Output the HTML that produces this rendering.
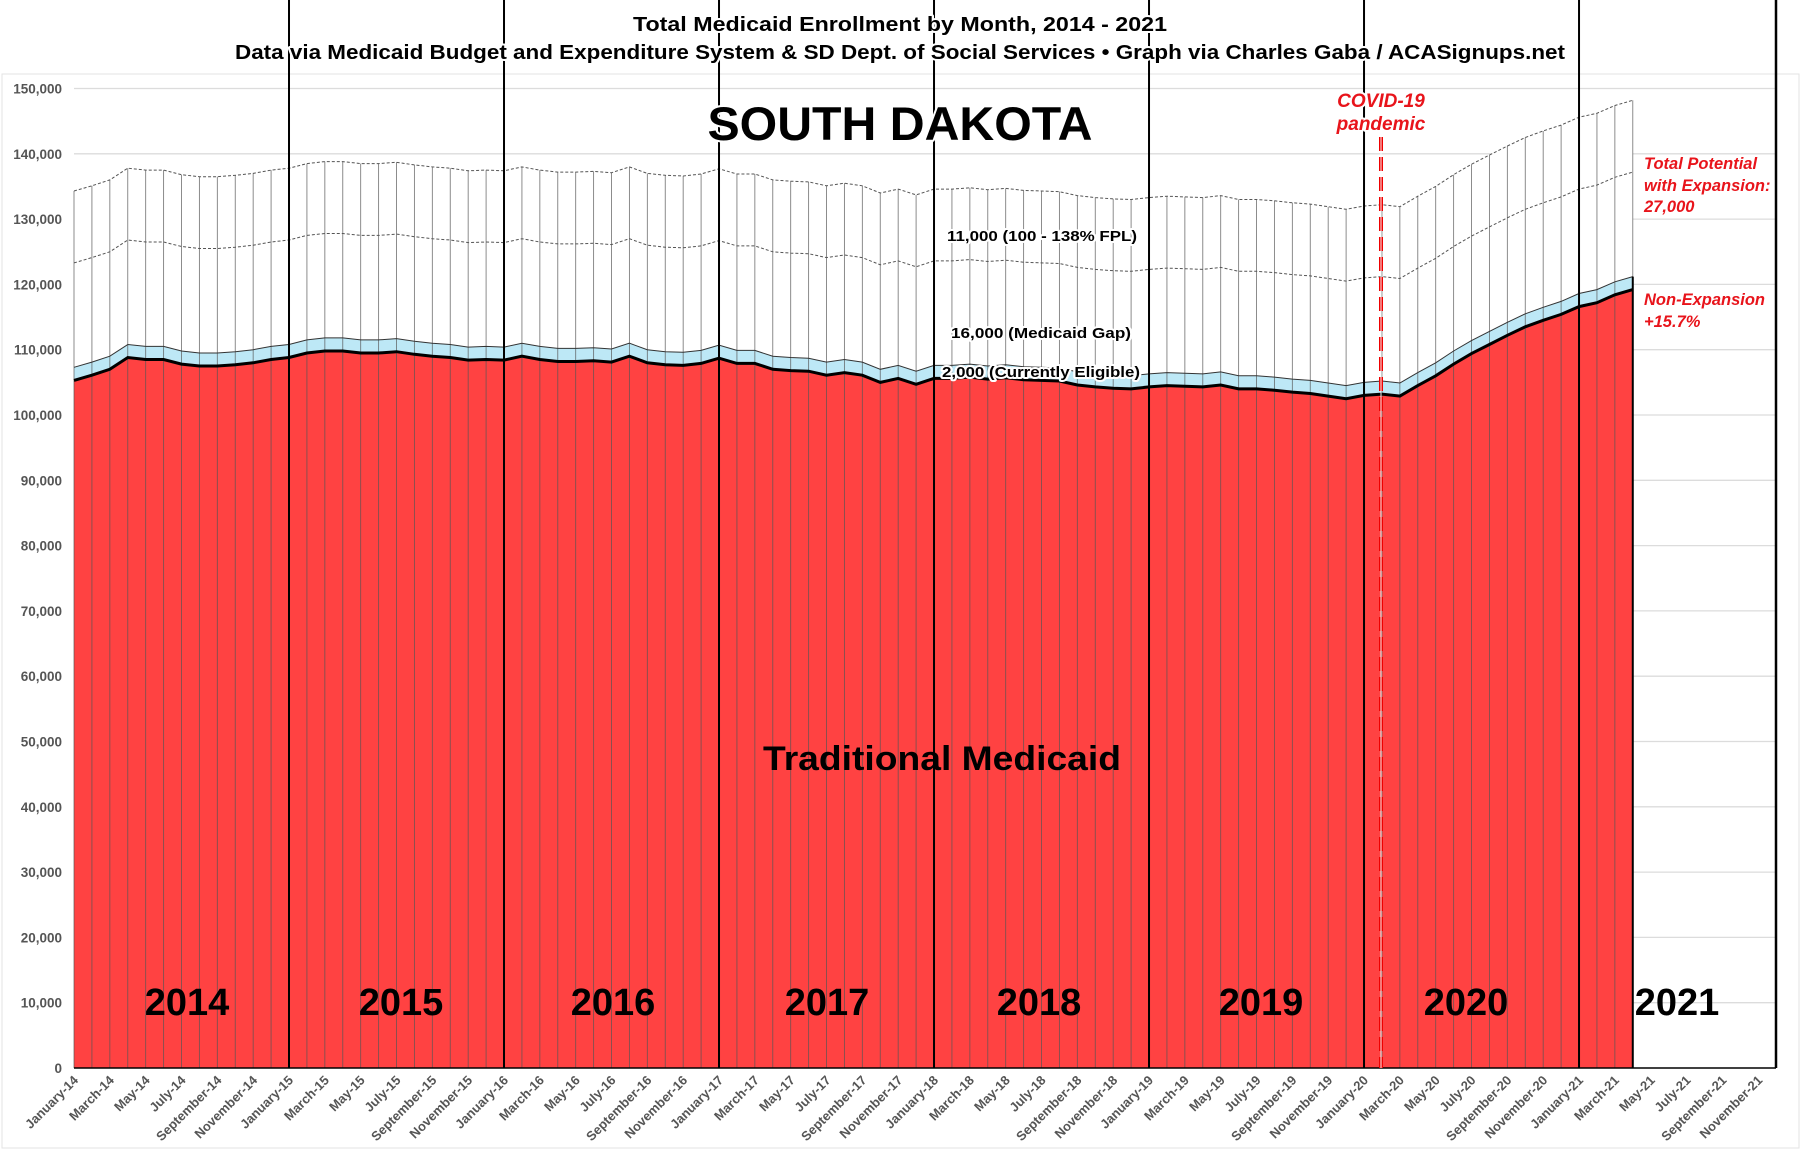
<!DOCTYPE html>
<html><head><meta charset="utf-8"><style>
html,body{margin:0;padding:0;background:#fff;}
svg{display:block;font-family:"Liberation Sans",sans-serif;}
.halo{paint-order:stroke;stroke:#fff;stroke-width:4px;stroke-linejoin:round;}
</style></head><body>
<svg id="c" width="1801" height="1150" viewBox="0 0 1801 1150" xmlns="http://www.w3.org/2000/svg"></svg>
<script>
const T=[105.3,106.1,107,108.8,108.5,108.5,107.8,107.5,107.5,107.7,108,108.5,
108.8,109.5,109.8,109.8,109.5,109.5,109.7,109.3,109,108.8,108.4,108.5,
108.4,109,108.5,108.2,108.2,108.3,108.1,109,108,107.7,107.6,107.9,
108.7,107.9,107.9,107,106.8,106.7,106.1,106.5,106.1,105,105.6,104.7,
105.6,105.6,105.8,105.5,105.7,105.4,105.3,105.2,104.6,104.3,104.1,104,
104.3,104.5,104.4,104.3,104.6,104,104,103.8,103.5,103.3,102.9,102.5,
103,103.2,102.9,104.5,106,107.8,109.4,110.8,112.2,113.5,114.5,115.4,
116.6,117.2,118.4,119.2];
const X0=74,DX=17.917,Y0=1068,PK=6.53;
const X=i=>X0+i*DX, Y=v=>Y0-v*PK;
let s='';
s+='<rect x="2" y="74" width="1797" height="1074" fill="none" stroke="#e3e3e3"/>';
for(let k=1;k<=15;k++){const y=Y(k*10);s+=`<line x1="${X0}" x2="1776" y1="${y}" y2="${y}" stroke="#dcdcdc" stroke-width="1.3"/>`;}
for(let k=0;k<=15;k++){const y=Y(k*10);s+=`<text x="62" y="${y+5}" text-anchor="end" font-size="13.5" font-weight="bold" fill="#555">${k==0?'0':(k*10)+',000'}</text>`;}
const n=T.length;
const pts=(off)=>T.map((v,i)=>`${X(i).toFixed(1)},${Y(v+off).toFixed(1)}`).join(' ');
const last=X(n-1);
s+=`<polygon points="${pts(29)} ${last},${Y0} ${X0},${Y0}" fill="#fff"/>`;
s+=`<polygon points="${pts(2)} ${T.map((v,i)=>`${X(n-1-i).toFixed(1)},${Y(T[n-1-i]).toFixed(1)}`).join(' ')}" fill="#bde8f6"/>`;
s+=`<polygon points="${pts(0)} ${last},${Y0} ${X0},${Y0}" fill="#ff4242"/>`;
for(let i=0;i<n;i++){s+=`<line x1="${X(i)}" x2="${X(i)}" y1="${Y(T[i]+29)}" y2="${Y0}" stroke="#555" stroke-width="0.9" opacity="0.75"/>`;}
s+=`<polyline points="${pts(29)}" fill="none" stroke="#555" stroke-width="1" stroke-dasharray="3,2"/>`;
s+=`<polyline points="${pts(18)}" fill="none" stroke="#555" stroke-width="1" stroke-dasharray="3,2"/>`;
s+=`<polyline points="${pts(2)}" fill="none" stroke="#333" stroke-width="1"/>`;
s+=`<polyline points="${pts(0)}" fill="none" stroke="#000" stroke-width="3"/>`;
s+=`<line x1="${last}" x2="${last}" y1="${Y(T[n-1]+2)}" y2="${Y0}" stroke="#000" stroke-width="2"/>`;
s+=`<line x1="${X0}" x2="1776" y1="${Y0}" y2="${Y0}" stroke="#000" stroke-width="1.5"/>`;
for(let k=1;k<=7;k++){const x=X(12*k);s+=`<line x1="${x}" x2="${x}" y1="0" y2="${Y0}" stroke="#000" stroke-width="2"/>`;}
s+=`<line x1="1776" x2="1776" y1="0" y2="${Y0}" stroke="#000" stroke-width="2.5"/>`;
s+=`<line x1="1381" x2="1381" y1="137" y2="${Y0}" stroke="#e00" stroke-width="4" stroke-dasharray="14,6"/><line x1="1381" x2="1381" y1="137" y2="${Y0}" stroke="#fff" stroke-width="1.2" opacity="0.8"/>`;
const M=['January','March','May','July','September','November'];
for(let i=0;i<96;i+=2){const x=X(i)+5,y=Y0+13;const yr=14+Math.floor(i/12);
s+=`<text transform="translate(${x},${y}) rotate(-45)" text-anchor="end" font-size="13" font-weight="bold" fill="#555">${M[(i%12)/2]}-${yr}</text>`;}
s+=`<text class="halo" x="900" y="31" text-anchor="middle" font-size="20" font-weight="bold" textLength="534" lengthAdjust="spacingAndGlyphs">Total Medicaid Enrollment by Month, 2014 - 2021</text>`;
s+=`<text class="halo" x="900" y="59" text-anchor="middle" font-size="20" font-weight="bold" textLength="1330" lengthAdjust="spacingAndGlyphs">Data via Medicaid Budget and Expenditure System &amp; SD Dept. of Social Services  •  Graph via Charles Gaba / ACASignups.net</text>`;
s+=`<text class="halo" x="900" y="140" text-anchor="middle" font-size="47" font-weight="bold" textLength="385" lengthAdjust="spacingAndGlyphs">SOUTH DAKOTA</text>`;
s+=`<text x="942" y="770" text-anchor="middle" font-size="34" font-weight="bold" textLength="358" lengthAdjust="spacingAndGlyphs">Traditional Medicaid</text>`;
const yrs=[[187,2014],[401,2015],[613,2016],[827,2017],[1039,2018],[1261,2019],[1466,2020],[1677,2021]];
for(const [x,t] of yrs)s+=`<text x="${x}" y="1015" text-anchor="middle" font-size="38" font-weight="bold">${t}</text>`;
s+=`<text class="halo" x="1042" y="241" text-anchor="middle" font-size="15" font-weight="bold" textLength="190" lengthAdjust="spacingAndGlyphs">11,000 (100 - 138% FPL)</text>`;
s+=`<text class="halo" x="1041" y="338" text-anchor="middle" font-size="15" font-weight="bold" textLength="180" lengthAdjust="spacingAndGlyphs">16,000 (Medicaid Gap)</text>`;
s+=`<text class="halo" x="1041" y="377" text-anchor="middle" font-size="15" font-weight="bold" textLength="198" lengthAdjust="spacingAndGlyphs">2,000 (Currently Eligible)</text>`;
const red='#e8141b';
s+=`<text class="halo" x="1381" y="107" text-anchor="middle" font-size="19" font-weight="bold" font-style="italic" fill="${red}">COVID-19</text>`;
s+=`<text class="halo" x="1381" y="130" text-anchor="middle" font-size="19" font-weight="bold" font-style="italic" fill="${red}">pandemic</text>`;
const rt=(t,y)=>`<text x="1644" y="${y}" font-size="16.5" font-weight="bold" font-style="italic" fill="${red}">${t}</text>`;
s+=rt('Total Potential',169)+rt('with Expansion:',191)+rt('27,000',212)+rt('Non-Expansion',305)+rt('+15.7%',327);
document.getElementById('c').innerHTML=s;
</script>
</body></html>
